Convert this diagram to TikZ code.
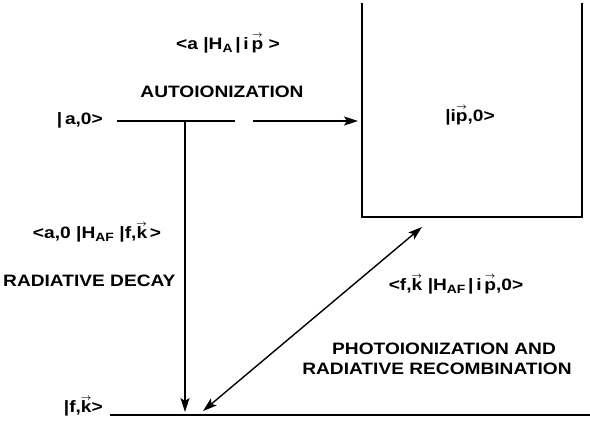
\documentclass[tikz,border=0pt]{standalone}
\usepackage{fontspec}
\usepackage{amsmath}
\setmainfont{Liberation Sans}
\newfontfamily\lab[FakeStretch=1.16]{Liberation Sans}
\usetikzlibrary{arrows.meta}
\newcommand\myvec[1]{{\ooalign{#1\cr\hidewidth\raisebox{12.3pt}{\fontsize{9}{9}\selectfont$\boldsymbol{\rightarrow}$}\hidewidth\cr}}}
\newcommand\sub[1]{\raisebox{-0.3ex}{\fontsize{12}{14}\selectfont #1}}
\begin{document}
\begin{tikzpicture}[x=1pt,y=-1pt,
  txt/.style={inner sep=0pt,font=\lab\bfseries\fontsize{16.5}{19}\selectfont},
  lvl/.style={line width=1.5pt},
  arr/.style={line width=1.4pt,-{Stealth[length=14pt,width=9pt,inset=3pt]}},
  darr/.style={line width=1.4pt,{Stealth[length=14pt,width=9pt,inset=3pt]}-{Stealth[length=14pt,width=9pt,inset=3pt]}}]
\useasboundingbox (0,0) rectangle (590,427);
% level coordinates
\coordinate (aL) at (117,121);
\coordinate (aR) at (235,121);
\coordinate (aS) at (253,121);
\coordinate (aT) at (358,121);
\coordinate (aV) at (185,121);
\coordinate (fV) at (185,412);
\coordinate (fL) at (110,415);
\coordinate (fR) at (590,415);
\coordinate (dA) at (203,411);
\coordinate (dB) at (422,227);
\coordinate (b1) at (362,3);
\coordinate (b2) at (362,217);
\coordinate (b3) at (582,217);
\coordinate (b4) at (582,3);
% texts
\node[txt,anchor=base east] (a0) at (103,125) {|\,a,0>};
\node[txt,anchor=base east] (fk) at (103,413) {|f,\myvec{k}>};
\node[txt,anchor=base] (aHa) at (228,50) {<a\,\,|H\sub{A}\,|\,i\,\myvec{p}\,\,>};
\node[txt,anchor=base] (auto) at (222,98) {AUTOIONIZATION};
\node[txt,anchor=base] (aHf) at (97,239) {<a,0\,\,|H\sub{AF}\,\,|f,\myvec{k}\,>};
\node[txt,anchor=base west] (rd) at (3,287) {RADIATIVE DECAY};
\node[txt,anchor=base] (ip0) at (470,122) {|i\myvec{p},0>};
\node[txt,anchor=base] (fkH) at (456,291) {<f,\myvec{k}\,\,|H\sub{AF}\,|\,i\,\myvec{p},0>};
\node[txt,anchor=base] (pa) at (444,355) {PHOTOIONIZATION AND};
\node[txt,anchor=base] (rr) at (437,375) {RADIATIVE RECOMBINATION};
% lines
\draw[lvl] (aL) -- (aR);
\draw[arr] (aS) -- (aT);
\draw[lvl] (b1) -- (b2) -- (b3) -- (b4);
\draw[arr] (aV) -- (fV);
\draw[lvl] (fL) -- (fR);
\draw[darr] (dA) -- (dB);
\end{tikzpicture}
\end{document}
